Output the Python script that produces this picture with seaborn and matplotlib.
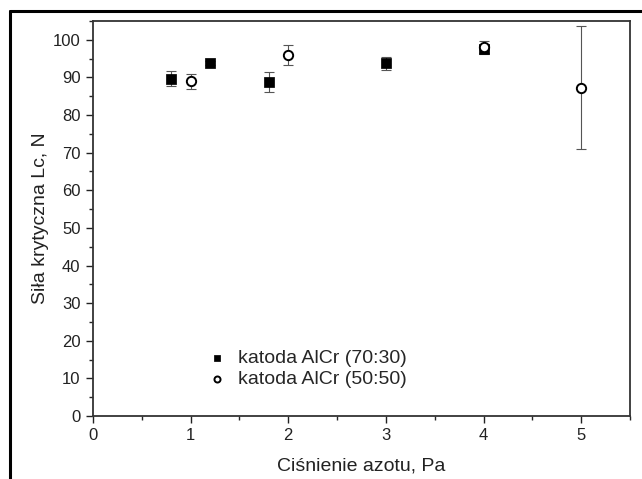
import pandas as pd
import matplotlib.pyplot as plt
import seaborn as sns
from matplotlib.lines import Line2D
from matplotlib.ticker import MultipleLocator

# data
p_70 = [0.8, 1.2, 1.8, 3.0, 4.0]
lc_70 = [89.7, 93.8, 88.8, 93.8, 97.6]
err_70 = [1.9, 0.5, 2.6, 1.7, 1.0]

p_50 = [1.0, 2.0, 4.0, 5.0]
lc_50 = [89.0, 96.0, 98.0, 87.3]
err_50 = [2.0, 2.6, 1.7, 16.3]

labels = ["katoda AlCr (70:30)", "katoda AlCr (50:50)"]

df = pd.concat([
    pd.DataFrame({"p": p_70, "lc": lc_70, "err": err_70, "seria": labels[0]}),
    pd.DataFrame({"p": p_50, "lc": lc_50, "err": err_50, "seria": labels[1]}),
])

sns.set_style("ticks")
plt.rcParams["font.family"] = ["Liberation Sans", "DejaVu Sans"]

fig = plt.figure(figsize=(6.42, 4.79), dpi=100)
ax = fig.add_axes([93 / 642, 63 / 479, 537 / 642, 395 / 479])

for name in labels:
    d = df[df["seria"] == name]
    ax.errorbar(d["p"], d["lc"], yerr=d["err"], fmt="none", ecolor="#555555",
                elinewidth=0.8, capsize=3.5, capthick=0.8, zorder=2)

sns.scatterplot(data=df[df["seria"] == labels[0]], x="p", y="lc", marker="s",
                color="black", edgecolor="black", s=42, ax=ax, zorder=3,
                label=labels[0])
sns.scatterplot(data=df[df["seria"] == labels[1]], x="p", y="lc", marker="o",
                facecolor="white", edgecolor="black", linewidth=1.4, s=45,
                ax=ax, zorder=4, label=labels[1])

ax.set_xlim(0, 5.5)
ax.set_ylim(0, 105)
ax.xaxis.set_major_locator(MultipleLocator(1))
ax.xaxis.set_minor_locator(MultipleLocator(0.5))
ax.yaxis.set_major_locator(MultipleLocator(10))
ax.yaxis.set_minor_locator(MultipleLocator(5))
ax.tick_params(which="major", length=5, width=1, direction="out", pad=4,
               labelsize=12, colors="#222222")
ax.tick_params(which="minor", length=3, width=1, direction="out")
for s in ax.spines.values():
    s.set_color("#333333")
    s.set_linewidth(1.3)

ax.set_xlabel("Ciśnienie azotu, Pa", fontsize=14, color="#222222", labelpad=10)
ax.set_ylabel("Siła krytyczna Lc, N", fontsize=14, color="#222222", labelpad=3)

ax.legend(loc="center left", bbox_to_anchor=(0.195, 0.12), frameon=False,
          fontsize=14, markerscale=0.65, handlelength=1.0, handletextpad=0.58,
          borderpad=0, labelspacing=0.2)

# outer frame of the original figure
fig.add_artist(Line2D([10.5 / 642, 1], [1 - 10.5 / 479, 1 - 10.5 / 479],
                      color="black", lw=2.2, transform=fig.transFigure))
fig.add_artist(Line2D([10.5 / 642, 10.5 / 642], [0, 1 - 10.5 / 479],
                      color="black", lw=2.2, transform=fig.transFigure))

fig.savefig("out.png", dpi=100)
